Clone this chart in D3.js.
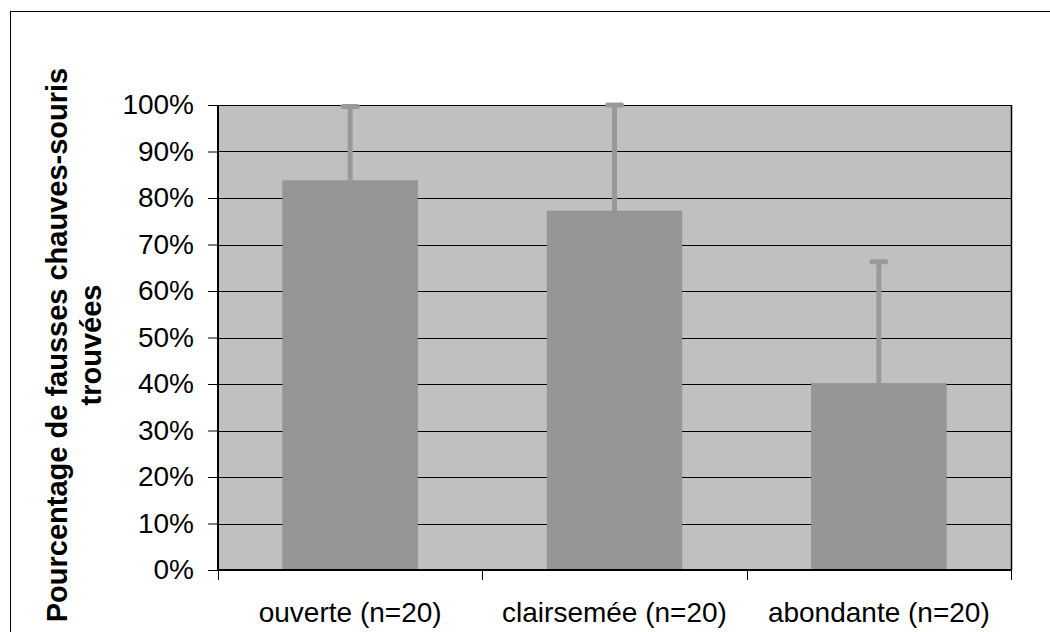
<!DOCTYPE html>
<html>
<head>
<meta charset="utf-8">
<script src="https://cdn.jsdelivr.net/npm/d3@7"></script>
<style>
  body { margin: 0; background: #fff; }
  text { font-family: "Liberation Sans", Arial, sans-serif; }
</style>
</head>
<body>
<div id="chart"></div>
<script>
const categories = ["ouverte (n=20)", "clairsemée (n=20)", "abondante (n=20)"];
const means = [83.7, 77.2, 40.1];      // % of fake bats found
const errors = [16.0, 22.8, 26.2];     // upper error bar
const yTicks = [0, 10, 20, 30, 40, 50, 60, 70, 80, 90, 100];

const W = 1050, H = 632;
const margin = { top: 105, right: 39, bottom: 62, left: 218 };
const width = W - margin.left - margin.right;
const height = H - margin.top - margin.bottom;

const svg = d3.select("#chart").append("svg")
  .attr("width", W)
  .attr("height", H);

// outer frame
svg.append("rect")
  .attr("x", 10.5).attr("y", 11.5)
  .attr("width", W).attr("height", H)
  .attr("fill", "none").attr("stroke", "#000").attr("stroke-width", 1);

const g = svg.append("g")
  .attr("transform", "translate(" + margin.left + "," + margin.top + ")");

const x = d3.scaleBand().domain(categories).range([0, width]).paddingInner(0.49).paddingOuter(0.245);
const y = d3.scaleLinear().domain([0, 100]).range([height, 0]);

// plot background
g.append("rect")
  .attr("width", width).attr("height", height)
  .attr("fill", "#c0c0c0");

// grid
g.selectAll(".grid").data(yTicks.filter(d => d > 0)).enter()
  .append("line")
  .attr("x1", 0).attr("x2", width)
  .attr("y1", d => Math.round(y(d)) + 0.5).attr("y2", d => Math.round(y(d)) + 0.5)
  .attr("stroke", "#000").attr("stroke-width", 1);

// right border
g.append("line")
  .attr("x1", width + 0.5).attr("x2", width + 0.5)
  .attr("y1", 0).attr("y2", height)
  .attr("stroke", "#000").attr("stroke-width", 1.5);

// bars
g.selectAll(".bar").data(means).enter()
  .append("rect")
  .attr("x", (d, i) => x(categories[i]))
  .attr("y", d => y(d))
  .attr("width", x.bandwidth())
  .attr("height", d => height - y(d))
  .attr("fill", "#969696")
  .attr("stroke", "#8a8a8a").attr("stroke-width", 0.5);

// error bars
const eb = g.selectAll(".err").data(means).enter().append("g");
eb.append("line")
  .attr("x1", (d, i) => x(categories[i]) + x.bandwidth() / 2)
  .attr("x2", (d, i) => x(categories[i]) + x.bandwidth() / 2)
  .attr("y1", d => y(d))
  .attr("y2", (d, i) => y(d + errors[i]))
  .attr("stroke", "#999").attr("stroke-width", 5);
eb.append("line")
  .attr("x1", (d, i) => x(categories[i]) + x.bandwidth() / 2 - 7)
  .attr("x2", (d, i) => x(categories[i]) + x.bandwidth() / 2 + 7)
  .attr("y1", (d, i) => y(d + errors[i]))
  .attr("y2", (d, i) => y(d + errors[i]))
  .attr("stroke", "#999").attr("stroke-width", 5).attr("stroke-linecap", "round");

// y axis
const yAxis = g.append("g")
  .call(d3.axisLeft(y).tickValues(yTicks).tickFormat(d => d + "%").tickSize(10).tickPadding(14));
yAxis.select(".domain").attr("stroke-width", 2).attr("d", "M0,0V" + height);
yAxis.selectAll("text").attr("font-size", 28).attr("fill", "#000").attr("font-family", "Liberation Sans, Arial, sans-serif");

// x axis
const bounds = [0, 1, 2, 3].map(i => i * width / 3);
const xAxis = g.append("g").attr("transform", "translate(0," + height + ")");
xAxis.append("line").attr("x1", 0).attr("x2", width).attr("y1", 0).attr("y2", 0)
  .attr("stroke", "#000").attr("stroke-width", 2);
xAxis.selectAll(".tk").data(bounds).enter().append("line")
  .attr("x1", d => Math.round(d) + 0.5).attr("x2", d => Math.round(d) + 0.5)
  .attr("y1", 0).attr("y2", 10)
  .attr("stroke", "#000");
xAxis.selectAll(".lbl").data(categories).enter().append("text")
  .attr("x", d => x(d) + x.bandwidth() / 2)
  .attr("y", 52)
  .attr("text-anchor", "middle")
  .attr("font-size", 28)
  .text(d => d);

// y title
const title = svg.append("text")
  .attr("transform", "translate(0,345) rotate(-90)")
  .attr("text-anchor", "middle")
  .attr("font-size", 29)
  .attr("font-weight", "bold");
title.append("tspan").attr("x", 0).attr("y", 67).text("Pourcentage de fausses chauves-souris");
title.append("tspan").attr("x", 0).attr("y", 101).text("trouvées");
</script>
</body>
</html>
